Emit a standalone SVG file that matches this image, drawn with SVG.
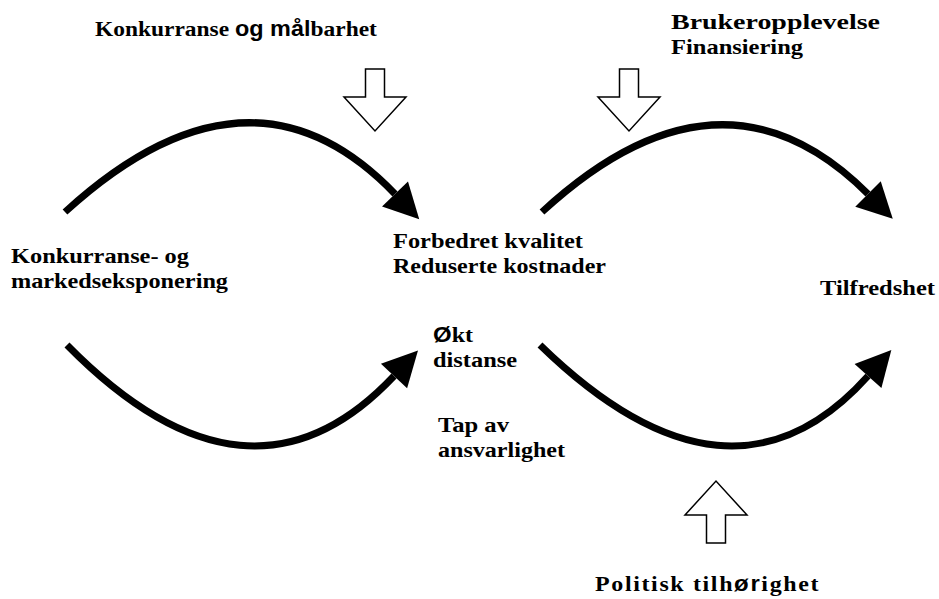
<svg xmlns="http://www.w3.org/2000/svg" width="939" height="599" viewBox="0 0 939 599">
<style>
text{font-family:'Liberation Serif','DejaVu Serif',serif;font-weight:bold;font-size:22px;fill:#000}
.s{font-family:'Liberation Sans','DejaVu Sans',sans-serif;font-weight:bold;font-size:22px}
.c{fill:none;stroke:#000;stroke-width:7;marker-end:url(#head)}
.h{fill:#fff;stroke:#000;stroke-width:1.5;stroke-linejoin:miter}
</style>
<defs>
<marker id="head" markerUnits="userSpaceOnUse" viewBox="-2 -20 40 40" markerWidth="40" markerHeight="40" refX="0" refY="0" orient="auto">
<path d="M0,-18 L35,0 L0,18 z" fill="#000"/>
</marker>
<polygon id="hollow" points="-9.5,0 9.5,0 9.5,28 31,28 0,62 -31,28 -9.5,28"/>
</defs>
<rect width="939" height="599" fill="#fff"/>
<g id="connectors">
<path class="c" d="M65,212 Q250,43 395,194"/>
<path class="c" d="M542,212 Q721,47 868,194"/>
<path class="c" d="M67,345 Q249,530 394,376"/>
<path class="c" d="M540,345 Q730,530 868,376"/>
</g>
<g id="input-konkurranse">
<use href="#hollow" class="h" transform="translate(375,69)"/>
<text transform="translate(95,36) scale(1.066,1)">Konkurranse <tspan class="s">og mål</tspan>barhet</text>
</g>
<g id="input-bruker">
<use href="#hollow" class="h" transform="translate(629,69)"/>
<text x="671" y="29" textLength="209" lengthAdjust="spacingAndGlyphs">Brukeropplevelse</text>
<text x="671" y="54" textLength="132" lengthAdjust="spacingAndGlyphs">Finansiering</text>
</g>
<g id="input-politisk">
<use href="#hollow" class="h" transform="translate(716,543) scale(1,-1)"/>
<text transform="translate(595,591) scale(1.09,1)" letter-spacing="1.5">Politisk tilh<tspan class="s">ør</tspan>ighet</text>
</g>
<g id="node-eksponering">
<text x="11" y="263" textLength="178" lengthAdjust="spacingAndGlyphs">Konkurranse- og</text>
<text x="11" y="288" textLength="217" lengthAdjust="spacingAndGlyphs">markedseksponering</text>
</g>
<g id="node-kvalitet">
<text x="393" y="248" textLength="190" lengthAdjust="spacingAndGlyphs">Forbedret kvalitet</text>
<text x="393" y="273" textLength="213" lengthAdjust="spacingAndGlyphs">Reduserte kostnader</text>
</g>
<g id="node-distanse">
<text transform="translate(433,342) scale(1.09,1)"><tspan class="s">Ø</tspan>kt</text>
<text x="433" y="367" textLength="84" lengthAdjust="spacingAndGlyphs">distanse</text>
</g>
<g id="node-ansvarlighet">
<text x="438" y="432" textLength="71" lengthAdjust="spacingAndGlyphs">Tap av</text>
<text x="438" y="457" textLength="127" lengthAdjust="spacingAndGlyphs">ansvarlighet</text>
</g>
<g id="node-tilfredshet">
<text x="820" y="295" textLength="115" lengthAdjust="spacingAndGlyphs">Tilfredshet</text>
</g>
</svg>
